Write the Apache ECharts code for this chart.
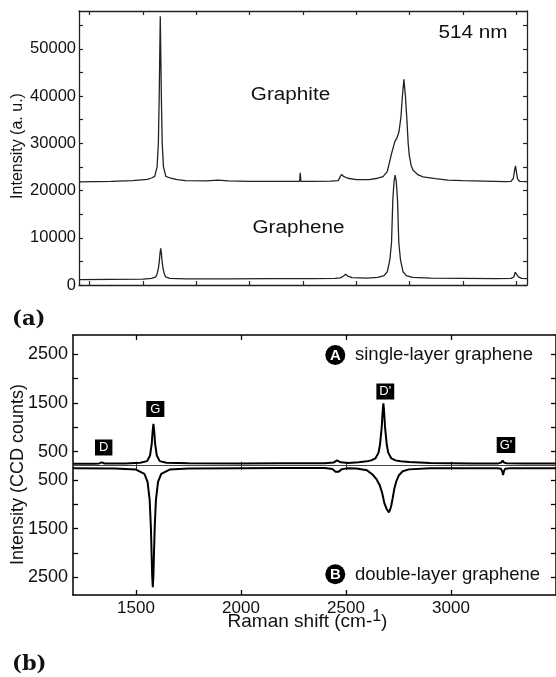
<!DOCTYPE html>
<html><head><meta charset="utf-8">
<script src="https://cdn.jsdelivr.net/npm/echarts@6/dist/echarts.min.js"></script>
<style>html,body{margin:0;padding:0;background:#fff}#c{width:556px;height:677px}</style>
</head><body><div id="c"></div>
<script>
// ---------- Panel (a): 514 nm spectra ----------
const graphiteShift = [1200,1350,1450,1520,1540,1555,1566,1572,1576,1581,1586,1590,1596,1607,1630,1660,1700,1800,1850,1900,2000,2100,2234,2237,2240,2300,2380,2415,2422,2430,2440,2460,2500,2560,2600,2625,2645,2665,2680,2692,2700,2709,2716,2723,2730,2737,2743,2748,2757,2766,2790,2813,2870,2930,3000,3100,3200,3225,3236,3242,3246,3250,3256,3265,3300];
const graphiteIntensity = [21850,21950,22100,22350,22650,23000,25000,30000,40000,56900,40000,30000,25000,23000,22600,22300,22100,22050,22200,22050,21950,21950,21950,23750,21950,21950,22000,22100,22400,23400,23000,22600,22300,22300,22600,22950,24000,27800,30300,31300,32500,35500,40000,43550,40000,35000,30000,27500,25300,24300,23300,22900,22500,22200,22100,22000,21900,21950,22600,24300,25200,24000,22400,21950,21900];

const grapheneShift = [1200,1350,1500,1540,1560,1567,1572,1576,1580,1583,1586,1590,1594,1599,1606,1625,1700,1900,2100,2300,2400,2425,2440,2450,2460,2480,2550,2600,2630,2645,2657,2665,2671,2677,2682,2687,2693,2699,2707,2719,2734,2764,2850,3000,3150,3225,3238,3245,3249,3253,3260,3275,3300];
const grapheneIntensity = [1150,1200,1250,1400,1700,2500,3500,4800,6800,7760,6800,4800,3500,2500,1700,1400,1300,1300,1350,1350,1400,1500,1900,2260,1900,1550,1450,1600,2000,2800,5300,9000,18000,22000,23260,22000,18000,9000,5300,2800,2000,1600,1450,1400,1350,1400,1700,2700,3020,2600,1700,1400,1350];

const topXTicks = [1250,1500,1750,2000,2250,2500,2750,3000,3250];
const topYTicks = [0,5000,10000,15000,20000,25000,30000,35000,40000,45000,50000,55000];
const topYLabels = [0,10000,20000,30000,40000,50000];

// ---------- Panel (b): single vs double layer (CCD counts) ----------
const singleShift = [1200,1300,1325,1337,1350,1450,1520,1553,1567,1575,1579,1583,1587,1591,1599,1613,1645,1750,2000,2200,2400,2440,2457,2475,2510,2560,2600,2620,2640,2655,2662,2670,2675,2678,2681,2686,2694,2701,2716,2736,2760,2800,2900,3100,3225,3240,3246,3252,3265,3350,3500];
const singleCounts = [250,252,258,280,256,258,272,305,422,665,910,1070,910,665,422,305,272,262,258,260,262,275,320,280,268,282,300,320,360,480,650,1000,1350,1496,1350,1000,650,480,360,320,300,285,265,258,258,275,318,275,260,258,258];

const doubleShift = [1200,1400,1500,1540,1555,1565,1571,1575,1577,1580,1583,1585,1589,1595,1605,1620,1660,1750,2000,2200,2400,2435,2450,2457,2465,2480,2510,2550,2600,2625,2645,2660,2672,2683,2693,2698,2704,2709,2715,2722,2730,2740,2752,2770,2800,2900,3100,3220,3238,3244,3248,3252,3258,3280,3500];
const doubleCounts = [255,262,285,373,537,903,1480,2125,2460,2706,2460,2125,1480,903,537,373,285,262,255,252,250,270,330,360,330,275,255,262,300,380,480,600,760,980,1090,1130,1165,1120,1040,880,680,520,400,320,280,255,255,255,265,320,395,320,265,255,255];

const bottomXTicks = [1500,2000,2500,3000];
const countTicks = [500,1000,1500,2000,2500];
const countLabels = [500,1500,2500];
const B_ZERO = 415; // position of the inverted (double-layer) zero on the shared axis

const peakLabels = ['D','G',"D'","G'"];

// ---------- build ----------
const zip = (a,b) => a.map((v,i)=>[v,b[i]]);
const FONT = "'Liberation Sans', Arial, Helvetica, sans-serif";
const upperVals = countTicks.slice();
const lowerVals = countTicks.map(t => B_ZERO - t);
const bottomYTicks = upperVals.concat(lowerVals);
const bottomYLabelVals = countLabels.concat(countLabels.map(t => B_ZERO - t));
const plain = v => String(Math.round(v));

const axCol = '#222';
function ax(grid, pos, min, max, ticks, opts) {
  return Object.assign({
    type:'value', gridIndex:grid, position:pos, min:min, max:max,
    axisLine:{show:true, onZero:false, lineStyle:{color:axCol, width:1.3}},
    axisTick:{show:true, inside:true, length:4, customValues:ticks, lineStyle:{color:axCol, width:1.2}},
    axisLabel:{show:false}, splitLine:{show:false}
  }, opts||{});
}

const chart = echarts.init(document.getElementById('c'), null, {renderer:'canvas'});
const option = {
  animation:false,
  backgroundColor:'#fff',
  grid:[
    {left:79, top:11, width:448, height:274},
    {left:73, top:335, width:487, height:260}
  ],
  xAxis:[
    ax(0,'bottom',1200,3300,topXTicks),
    ax(0,'top',1200,3300,topXTicks),
    ax(1,'bottom',1200,3500,bottomXTicks,{
      axisLine:{show:true,onZero:false,lineStyle:{color:'#000',width:1.5}},
      axisTick:{show:true,inside:true,length:5,customValues:bottomXTicks,lineStyle:{color:'#000',width:1.3}},
      axisLabel:{show:true,customValues:bottomXTicks,fontSize:17,fontFamily:FONT,color:'#111',margin:5,formatter:plain}
    }),
    ax(1,'top',1200,3500,bottomXTicks,{
      axisLine:{show:true,onZero:false,lineStyle:{color:'#000',width:1.5}},
      axisTick:{show:true,inside:true,length:5,customValues:bottomXTicks,lineStyle:{color:'#000',width:1.3}}
    }),
    ax(1,'bottom',1200,3500,bottomXTicks,{
      offset:-129.3,
      axisLine:{show:true,onZero:false,lineStyle:{color:'#444',width:1}},
      axisTick:{show:true,inside:true,length:4,customValues:bottomXTicks,lineStyle:{color:'#333',width:1}}
    }),
    ax(1,'bottom',1200,3500,bottomXTicks,{
      offset:-129.3,
      axisLine:{show:false,onZero:false},
      axisTick:{show:true,inside:false,length:4,customValues:bottomXTicks,lineStyle:{color:'#333',width:1}}
    })
  ],
  yAxis:[
    ax(0,'left',0,58000,topYTicks,{
      axisLabel:{show:true,customValues:topYLabels,fontSize:16.5,fontFamily:FONT,color:'#111',margin:3,formatter:plain}
    }),
    ax(0,'right',0,58000,topYTicks),
    ax(1,'left',-2450,2900,bottomYTicks,{
      axisLine:{show:true,onZero:false,lineStyle:{color:'#000',width:1.5}},
      axisTick:{show:true,inside:true,length:5,customValues:bottomYTicks,lineStyle:{color:'#000',width:1.3}},
      axisLabel:{show:true,customValues:bottomYLabelVals,fontSize:18,fontFamily:FONT,color:'#111',margin:5,
        formatter:function(v){ return plain(v > 0 ? v : B_ZERO - v); }}
    }),
    ax(1,'right',-2450,2900,bottomYTicks,{
      axisLine:{show:true,onZero:false,lineStyle:{color:'#000',width:1.5}},
      axisTick:{show:true,inside:true,length:5,customValues:bottomYTicks,lineStyle:{color:'#000',width:1.3}}
    })
  ],
  series:[
    {name:'Graphite', type:'line', xAxisIndex:0, yAxisIndex:0, data:zip(graphiteShift,graphiteIntensity),
      showSymbol:false, symbol:'none', lineStyle:{color:'#222',width:1.3}},
    {name:'Graphene', type:'line', xAxisIndex:0, yAxisIndex:0, data:zip(grapheneShift,grapheneIntensity),
      showSymbol:false, symbol:'none', lineStyle:{color:'#222',width:1.3}},
    {name:'single-layer graphene', type:'line', xAxisIndex:2, yAxisIndex:2, data:zip(singleShift,singleCounts),
      showSymbol:false, symbol:'none', lineStyle:{color:'#000',width:2}},
    {name:'double-layer graphene', type:'line', xAxisIndex:2, yAxisIndex:2,
      data:doubleShift.map((x,i)=>[x, B_ZERO - doubleCounts[i]]),
      showSymbol:false, symbol:'none', lineStyle:{color:'#000',width:2}}
  ],
  graphic:[
    {type:'text', x:290.5, y:95, scaleX:1.15, style:{text:'Graphite', fontSize:18, fontFamily:FONT, fill:'#111', align:'center', verticalAlign:'middle'}},
    {type:'text', x:298.5, y:228, scaleX:1.15, style:{text:'Graphene', fontSize:18, fontFamily:FONT, fill:'#111', align:'center', verticalAlign:'middle'}},
    {type:'text', x:473, y:33, scaleX:1.15, style:{text:'514 nm', fontSize:18, fontFamily:FONT, fill:'#111', align:'center', verticalAlign:'middle'}},
    {type:'text', x:18, y:146, rotation:Math.PI/2, style:{text:'Intensity (a. u.)', fontSize:16, fontFamily:FONT, fill:'#111', align:'center', verticalAlign:'middle'}},
    {type:'text', x:18, y:474.5, rotation:Math.PI/2, style:{text:'Intensity (CCD counts)', fontSize:18, fontFamily:FONT, fill:'#111', align:'center', verticalAlign:'middle'}},
    {type:'text', x:12, y:320, style:{text:'(a)', fontSize:21, fontWeight:'bold', fontFamily:"'DejaVu Serif', serif", fill:'#111', align:'left', verticalAlign:'middle'}},
    {type:'text', x:12, y:665, style:{text:'(b)', fontSize:21, fontWeight:'bold', fontFamily:"'DejaVu Serif', serif", fill:'#111', align:'left', verticalAlign:'middle'}},
    {type:'text', x:307.5, y:622, style:{text:'{a|Raman shift (cm-}{s|1}{a|)}', align:'center', verticalAlign:'middle',
      rich:{a:{fontSize:19, fontFamily:FONT, fill:'#111', lineHeight:26}, s:{fontSize:16, fontFamily:FONT, fill:'#111', lineHeight:17, verticalAlign:'top'}}}},
    {type:'circle', shape:{cx:335.3, cy:355, r:10}, style:{fill:'#000'}},
    {type:'text', x:335.3, y:356, style:{text:'A', fontSize:15, fontWeight:'bold', fontFamily:FONT, fill:'#fff', align:'center', verticalAlign:'middle'}},
    {type:'text', x:355, y:355, style:{text:'single-layer graphene', fontSize:18.5, fontFamily:FONT, fill:'#111', align:'left', verticalAlign:'middle'}},
    {type:'circle', shape:{cx:335.3, cy:574.3, r:10}, style:{fill:'#000'}},
    {type:'text', x:335.3, y:575.3, style:{text:'B', fontSize:15, fontWeight:'bold', fontFamily:FONT, fill:'#fff', align:'center', verticalAlign:'middle'}},
    {type:'text', x:355, y:574.5, style:{text:'double-layer graphene', fontSize:18.5, fontFamily:FONT, fill:'#111', align:'left', verticalAlign:'middle'}},
    {type:'text', x:103.7, y:447.5, style:{text:peakLabels[0], fontSize:13, fontFamily:FONT, fill:'#fff', backgroundColor:'#000', padding:[2,4,1,4], align:'center', verticalAlign:'middle'}},
    {type:'text', x:155.3, y:409, style:{text:peakLabels[1], fontSize:13, fontFamily:FONT, fill:'#fff', backgroundColor:'#000', padding:[2,4,1,4], align:'center', verticalAlign:'middle'}},
    {type:'text', x:385.3, y:391.5, style:{text:peakLabels[2], fontSize:13, fontFamily:FONT, fill:'#fff', backgroundColor:'#000', padding:[2,3,1,3], align:'center', verticalAlign:'middle'}},
    {type:'text', x:506, y:445, style:{text:peakLabels[3], fontSize:13, fontFamily:FONT, fill:'#fff', backgroundColor:'#000', padding:[2,3,1,3], align:'center', verticalAlign:'middle'}}
  ]
};
chart.setOption(option);
</script></body></html>
